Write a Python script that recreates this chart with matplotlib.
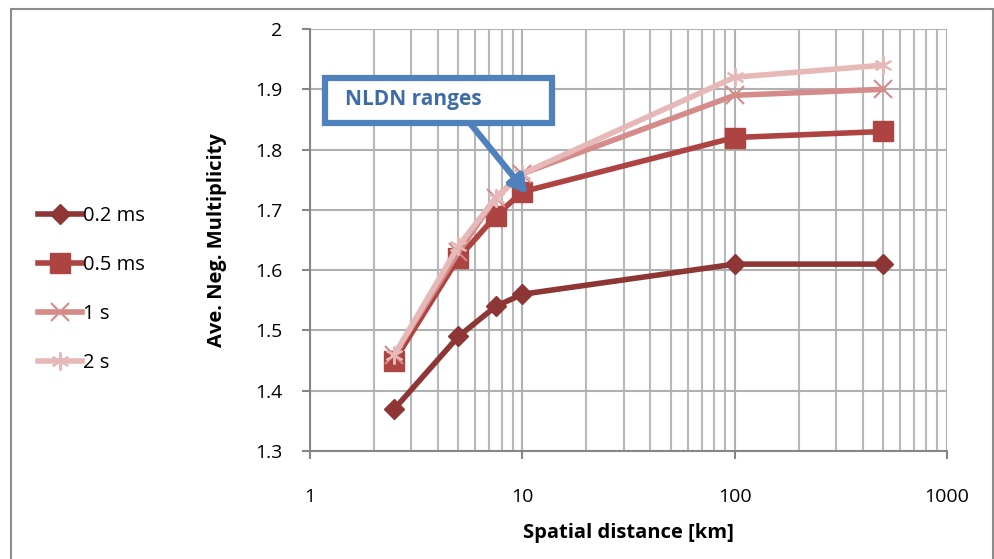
import numpy as np
import matplotlib.pyplot as plt
from matplotlib.patches import Rectangle

# Data
distance_km = [2.5, 5, 7.5, 10, 100, 500]
mult_02ms = [1.37, 1.49, 1.54, 1.56, 1.61, 1.61]
mult_05ms = [1.45, 1.62, 1.69, 1.73, 1.82, 1.83]
mult_1s = [1.46, 1.63, 1.72, 1.76, 1.89, 1.90]
mult_2s = [1.46, 1.64, 1.72, 1.76, 1.92, 1.94]
labels = ['0.2 ms', '0.5 ms', '1 s', '2 s']
y_ticks = [1.3, 1.4, 1.5, 1.6, 1.7, 1.8, 1.9, 2.0]
y_ticklabels = ['1.3', '1.4', '1.5', '1.6', '1.7', '1.8', '1.9', '2']
x_ticks = [1, 10, 100, 1000]

plt.rcParams['font.family'] = ['Open Sans', 'DejaVu Sans']

fig = plt.figure(figsize=(9.95, 5.59), dpi=100)
ax = fig.add_axes([310 / 995, 1 - 451 / 559, 637 / 995, 422 / 559])

# Series
ax.plot(distance_km, mult_02ms, color='#8E3535', lw=4, marker='D', ms=10,
        label=labels[0], zorder=3)
ax.plot(distance_km, mult_05ms, color='#AE4442', lw=4, marker='s', ms=15,
        label=labels[1], zorder=3)
ax.plot(distance_km, mult_1s, color='#D48B8A', lw=4, marker='x', ms=13, mew=1.5,
        label=labels[2], zorder=3)
ax.plot(distance_km, mult_2s, color='#E6B8B7', lw=4, marker=(6, 2, 0), ms=13, mew=1.5,
        label=labels[3], zorder=3)

ax.set_xscale('log')
ax.set_xlim(1, 1000)
ax.set_ylim(1.3, 2.0)
ax.set_yticks(y_ticks)
ax.set_yticklabels(y_ticklabels)
ax.set_xticks(x_ticks)
ax.set_xticklabels([str(v) for v in x_ticks])

ax.grid(True, which='major', color='#B0B0B0', lw=1.5)
ax.grid(True, which='minor', axis='x', color='#B8B8B8', lw=1.5)
ax.set_axisbelow(True)
ax.tick_params(labelsize=14, length=6, width=1.5, color='#868686', direction='out')
ax.tick_params(axis='x', pad=21)
ax.tick_params(axis='y', pad=14)
ax.tick_params(which='minor', length=0)
for s in ['top', 'right']:
    ax.spines[s].set_visible(False)
for s in ['left', 'bottom']:
    ax.spines[s].set_color('#868686')
    ax.spines[s].set_linewidth(1.5)

ax.set_xlabel('Spatial distance [km]', fontsize=14.5, fontweight='bold', labelpad=12)
ax.set_ylabel('Ave. Neg. Multiplicity', fontsize=14.5, fontweight='bold', labelpad=20)

# Callout: box, text and arrow
ax.add_patch(Rectangle((0.0235, 0.777), 0.357, 0.107, transform=ax.transAxes,
                       fc='white', ec='#4F81BD', lw=4.5, zorder=5))
ax.text(0.055, 0.832, 'NLDN ranges', transform=ax.transAxes, fontsize=15,
        fontweight='bold', color='#3F6CA6', va='center', ha='left', zorder=6)
ax.annotate('', xy=(10.6, 1.726), xytext=(0.251, 0.777), textcoords='axes fraction',
            arrowprops=dict(arrowstyle='-|>,head_length=1.0,head_width=0.55', color='#4F81BD',
                            lw=4.5, shrinkA=0, shrinkB=0),
            zorder=5)

leg = fig.legend(loc='center left', bbox_to_anchor=(0.02, 0.482), frameon=False,
                 fontsize=14.5, handlelength=2.2, handletextpad=0.05, labelspacing=1.45)

# Outer chart border
fig.patches.append(Rectangle((11 / 995, -0.05), 982 / 995, 1.05 - 9 / 559,
                             transform=fig.transFigure, fill=False, ec='#8C8C8C', lw=1.5))

fig.savefig('out.png', dpi=100)
